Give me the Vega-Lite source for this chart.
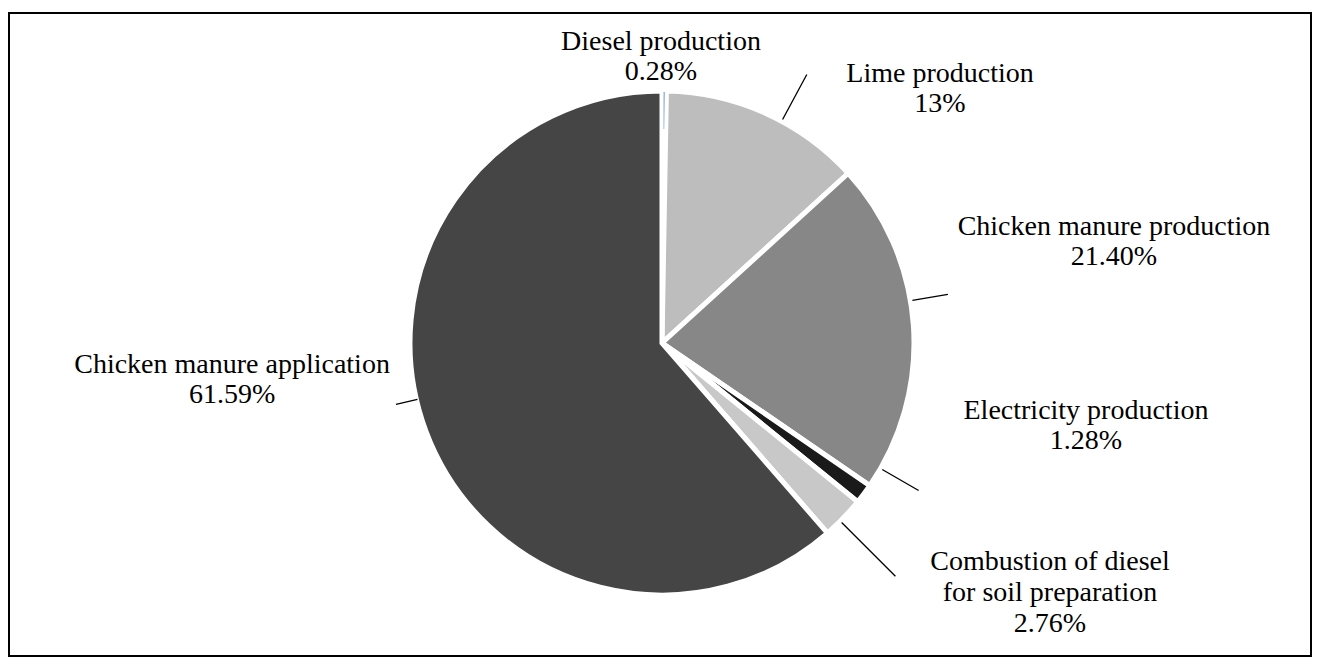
{
  "$schema": "https://vega.github.io/schema/vega-lite/v6.json",
  "width": 1302,
  "height": 643,
  "autosize": {"type": "none"},
  "padding": {"left": 9, "top": 13, "right": 8, "bottom": 7},
  "background": "white",
  "config": {"view": {"stroke": null}},
  "data": {
    "values": [
      {"rank": 1, "category": "Diesel production", "share": 0.28, "label": "Diesel production\n0.28%"},
      {"rank": 2, "category": "Lime production", "share": 13, "label": "Lime production\n13%"},
      {"rank": 3, "category": "Chicken manure production", "share": 21.40, "label": "Chicken manure production\n21.40%"},
      {"rank": 4, "category": "Electricity production", "share": 1.28, "label": "Electricity production\n1.28%"},
      {"rank": 5, "category": "Combustion of diesel for soil preparation", "share": 2.76, "label": "Combustion of diesel\nfor soil preparation\n2.76%"},
      {"rank": 6, "category": "Chicken manure application", "share": 61.59, "label": "Chicken manure application\n61.59%"}
    ]
  },
  "transform": [
    {"stack": "share", "as": ["t0", "t1"], "groupby": [], "sort": [{"field": "rank", "order": "ascending"}]}
  ],
  "layer": [
    {
      "transform": [{"filter": "datum.rank === 1"}],
      "mark": {"type": "rect", "filled": false, "stroke": "#000000", "strokeWidth": 2},
      "encoding": {}
    },
    {
      "mark": {"type": "arc", "radius": 252, "stroke": "white", "strokeWidth": 5, "xOffset": 2, "yOffset": 8.5},
      "encoding": {
        "theta": {"field": "t0", "type": "quantitative", "scale": {"domain": [0, 100.31]}},
        "theta2": {"field": "t1"},
        "color": {
          "field": "category",
          "type": "nominal",
          "legend": null,
          "scale": {
            "domain": ["Diesel production", "Lime production", "Chicken manure production", "Electricity production", "Combustion of diesel for soil preparation", "Chicken manure application"],
            "range": ["#9ab8e4", "#bdbdbd", "#878787", "#1a1a1a", "#c8c8c8", "#454545"]
          }
        }
      }
    },
    {
      "transform": [{"filter": "datum.category === 'Diesel production'"}],
      "mark": {"type": "arc", "radius": 251, "radius2": 214, "padAngle": 0.009, "fill": "#8fb0e0", "xOffset": 2, "yOffset": 8.5},
      "encoding": {"theta": {"field": "t0", "type": "quantitative", "scale": {"domain": [0, 100.31]}}, "theta2": {"field": "t1"}}
    },
    {
      "transform": [{"filter": "datum.category === 'Lime production'"}],
      "mark": {"type": "arc", "filled": false, "stroke": "black", "strokeWidth": 1.3, "radius": 305, "radius2": 254, "padAngle": 3, "thetaOffset": 0.07, "theta2Offset": 0.07, "xOffset": 2, "yOffset": 8.5},
      "encoding": {"theta": {"field": "t0", "type": "quantitative", "scale": {"domain": [0, 100.31]}}, "theta2": {"field": "t1"}}
    },
    {
      "transform": [{"filter": "datum.category === 'Chicken manure production'"}],
      "mark": {"type": "arc", "filled": false, "stroke": "black", "strokeWidth": 1.3, "radius": 290, "radius2": 254, "padAngle": 3, "thetaOffset": -0.1, "theta2Offset": -0.1, "xOffset": 2, "yOffset": 8.5},
      "encoding": {"theta": {"field": "t0", "type": "quantitative", "scale": {"domain": [0, 100.31]}}, "theta2": {"field": "t1"}}
    },
    {
      "transform": [{"filter": "datum.category === 'Electricity production'"}],
      "mark": {"type": "arc", "filled": false, "stroke": "black", "strokeWidth": 1.3, "radius": 296, "radius2": 254, "padAngle": 3, "thetaOffset": -0.12, "theta2Offset": -0.12, "xOffset": 2, "yOffset": 8.5},
      "encoding": {"theta": {"field": "t0", "type": "quantitative", "scale": {"domain": [0, 100.31]}}, "theta2": {"field": "t1"}}
    },
    {
      "transform": [{"filter": "datum.category === 'Combustion of diesel for soil preparation'"}],
      "mark": {"type": "arc", "filled": false, "stroke": "black", "strokeWidth": 1.3, "radius": 330, "radius2": 254, "padAngle": 3, "thetaOffset": 0.017, "theta2Offset": 0.017, "xOffset": 2, "yOffset": 8.5},
      "encoding": {"theta": {"field": "t0", "type": "quantitative", "scale": {"domain": [0, 100.31]}}, "theta2": {"field": "t1"}}
    },
    {
      "transform": [{"filter": "datum.category === 'Chicken manure application'"}],
      "mark": {"type": "arc", "filled": false, "stroke": "black", "strokeWidth": 1.3, "radius": 273, "radius2": 251, "padAngle": 3, "thetaOffset": 2.0602, "theta2Offset": -1.7977, "xOffset": 2, "yOffset": 8.5},
      "encoding": {"theta": {"field": "t0", "type": "quantitative", "scale": {"domain": [0, 100.31]}}, "theta2": {"field": "t1"}}
    },
    {
      "transform": [{"filter": "datum.category === 'Diesel production'"}],
      "mark": {"type": "text", "radius": 280, "dx": -1, "dy": -21.4, "xOffset": 2, "yOffset": 8.5, "fontSize": 28, "lineHeight": 30, "lineBreak": "\n", "align": "center", "baseline": "middle", "font": "Liberation Serif", "color": "#000000"},
      "encoding": {"theta": {"field": "t0", "type": "quantitative", "scale": {"domain": [0, 100.31]}}, "text": {"field": "label"}}
    },
    {
      "transform": [{"filter": "datum.category === 'Lime production'"}],
      "mark": {"type": "text", "radius": 280, "dx": 273.1, "dy": 10.6, "xOffset": 2, "yOffset": 8.5, "fontSize": 28, "lineHeight": 30, "lineBreak": "\n", "align": "center", "baseline": "middle", "font": "Liberation Serif", "color": "#000000"},
      "encoding": {"theta": {"field": "t0", "type": "quantitative", "scale": {"domain": [0, 100.31]}}, "text": {"field": "label"}}
    },
    {
      "transform": [{"filter": "datum.category === 'Chicken manure production'"}],
      "mark": {"type": "text", "radius": 280, "dx": 245, "dy": 72.2, "xOffset": 2, "yOffset": 8.5, "fontSize": 28, "lineHeight": 30, "lineBreak": "\n", "align": "center", "baseline": "middle", "font": "Liberation Serif", "color": "#000000"},
      "encoding": {"theta": {"field": "t0", "type": "quantitative", "scale": {"domain": [0, 100.31]}}, "text": {"field": "label"}}
    },
    {
      "transform": [{"filter": "datum.category === 'Electricity production'"}],
      "mark": {"type": "text", "radius": 280, "dx": 193.1, "dy": -90.8, "xOffset": 2, "yOffset": 8.5, "fontSize": 28, "lineHeight": 30, "lineBreak": "\n", "align": "center", "baseline": "middle", "font": "Liberation Serif", "color": "#000000"},
      "encoding": {"theta": {"field": "t0", "type": "quantitative", "scale": {"domain": [0, 100.31]}}, "text": {"field": "label"}}
    },
    {
      "transform": [{"filter": "datum.category === 'Combustion of diesel for soil preparation'"}],
      "mark": {"type": "text", "radius": 280, "dx": 170.6, "dy": 42.1, "xOffset": 2, "yOffset": 8.5, "fontSize": 28, "lineHeight": 31, "lineBreak": "\n", "align": "center", "baseline": "middle", "font": "Liberation Serif", "color": "#000000"},
      "encoding": {"theta": {"field": "t0", "type": "quantitative", "scale": {"domain": [0, 100.31]}}, "text": {"field": "label"}}
    },
    {
      "transform": [{"filter": "datum.category === 'Chicken manure application'"}],
      "mark": {"type": "text", "radius": 280, "dx": -613.8, "dy": -189.6, "xOffset": 2, "yOffset": 8.5, "fontSize": 28, "lineHeight": 30, "lineBreak": "\n", "align": "center", "baseline": "middle", "font": "Liberation Serif", "color": "#000000"},
      "encoding": {"theta": {"field": "t0", "type": "quantitative", "scale": {"domain": [0, 100.31]}}, "text": {"field": "label"}}
    }
  ]
}
